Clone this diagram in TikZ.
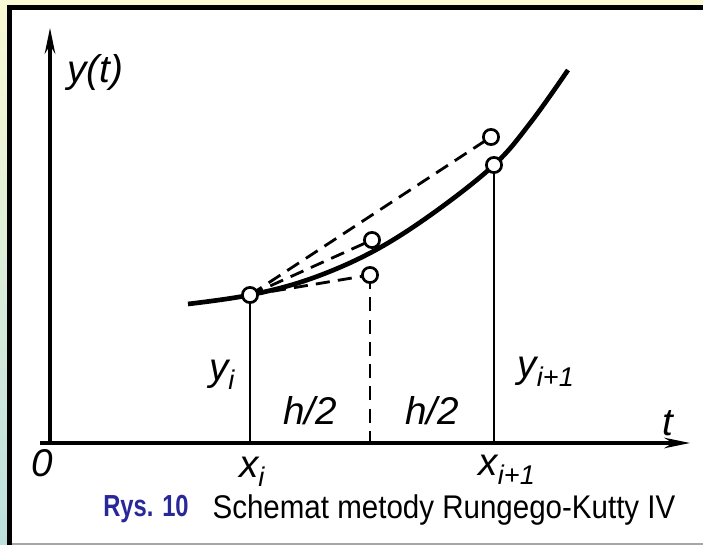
\documentclass[tikz,border=0pt]{standalone}
\usepackage{fontspec}
\setmainfont{Liberation Sans}
\usetikzlibrary{arrows.meta}
\definecolor{tlogora}{RGB}{250,250,212}
\definecolor{tlodol}{RGB}{188,224,222}
\definecolor{rysblue}{RGB}{40,40,155}

\begin{document}
\begin{tikzpicture}[x=0.03cm, y=-0.03cm,
  os/.style={line width=2.6pt, -{Stealth[length=22pt,width=9pt]}},
  pion/.style={line width=2.4pt},
  kreska/.style={line width=2.4pt, dash pattern=on 12pt off 7pt},
  punkt/.style={circle, draw, fill=white, line width=2.3pt, minimum size=13pt, inner sep=0pt},
  opis/.style={font=\fontsize{33}{35}\selectfont\itshape}]
\useasboundingbox (0,0) rectangle (703,545);
% tlo i ramka
\shade[top color=tlogora, bottom color=tlodol] (0,0) rectangle (703,545);
\fill[black] (7,5) rectangle (703,545);
\fill[white] (12,10) rectangle (703,543);
\fill[gray!70] (12,543) rectangle (703,545);
% punkty
\coordinate (O) at (50,443);
\coordinate (X0) at (40,443);
\coordinate (Xk) at (690,443);
\coordinate (Yk) at (50,28);
\coordinate (A) at (250,295);
\coordinate (B) at (370,275);
\coordinate (C) at (372,240);
\coordinate (D) at (491,137);
\coordinate (E) at (494,165);
% osie
\draw[os] (O) -- (Yk);
\draw[os] (X0) -- (Xk);
% krzywa
\draw[line width=4pt] plot[smooth, tension=0.6] coordinates {(188,304) (250,295) (310,279) (372,252) (432,214) (494,165) (531,122) (568,70)};
% linie
\draw[kreska] (A) -- (B);
\draw[kreska] (A) -- (C);
\draw[kreska] (A) -- (D);
\draw[kreska] (B) -- (B |- O);
\draw[pion] (A) -- (A |- O);
\draw[pion] (E) -- (E |- O);
% kolka
\foreach \p in {A,B,C,D,E}
  \node[punkt] at (\p) {};
% opisy
\node[opis] (yt) at (95,73) {y(t)};
\node[opis] (zero) at (42,463) {0};
\node[opis] (xi) at (252,472) {x\textsubscript{i}};
\node[opis] (xii) at (507,470) {x\textsubscript{i+1}};
\node[opis] (yi) at (222,375) {y\textsubscript{i}};
\node[opis] (yii) at (546,372) {y\textsubscript{i+1}};
\node[opis] (h1) at (310,411) {h/2};
\node[opis] (h2) at (432,411) {h/2};
\node[opis] (t) at (668,423) {t};
% podpis
\node[font=\fontsize{26}{28}\selectfont\bfseries, text=rysblue] (rys) at (146,509) {\scalebox{0.78}[1]{Rys. 10}};
\node[font=\fontsize{28}{30}\selectfont] (tytul) at (444,510) {\scalebox{0.9}[1]{Schemat metody Rungego-Kutty IV}};
\end{tikzpicture}
\end{document}
